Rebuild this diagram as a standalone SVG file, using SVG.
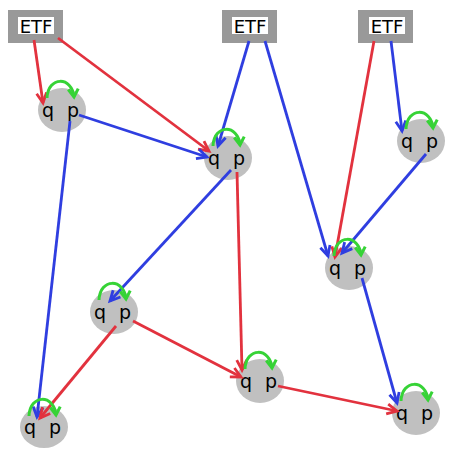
<svg xmlns="http://www.w3.org/2000/svg" width="471" height="471" viewBox="0 0 471 471">
<style>
.etf rect.box{fill:#999999}
.etf rect.bg{fill:#ffffff}
text{font-family:"DejaVu Sans","Liberation Sans",sans-serif;fill:#000}
.etf text{font-size:18px;text-anchor:middle}
.node ellipse{fill:#c0c0c0}
.node text{font-size:19px;text-anchor:middle}
.r{stroke:#e2323e;stroke-width:2.8;fill:none;marker-end:url(#ar)}
.b{stroke:#2f3ee0;stroke-width:2.8;fill:none;marker-end:url(#ab)}
.g{stroke:#36d336;stroke-width:3;fill:none;marker-end:url(#ag)}
</style>
<defs>
<marker id="ar" markerUnits="userSpaceOnUse" viewBox="-12 -7 14 14" refX="0" refY="0" markerWidth="14" markerHeight="14" orient="auto" overflow="visible"><path d="M-10,-5 L0,0 L-10,5" fill="none" stroke="#e2323e" stroke-width="2.8"/></marker>
<marker id="ab" markerUnits="userSpaceOnUse" viewBox="-12 -7 14 14" refX="0" refY="0" markerWidth="14" markerHeight="14" orient="auto" overflow="visible"><path d="M-10,-5 L0,0 L-10,5" fill="none" stroke="#2f3ee0" stroke-width="2.8"/></marker>
<marker id="ag" markerUnits="userSpaceOnUse" viewBox="-12 -7 14 14" refX="0" refY="0" markerWidth="14" markerHeight="14" orient="auto" overflow="visible"><path d="M-8,-5 L0,0 L-8,5" fill="none" stroke="#36d336" stroke-width="3"/></marker>
</defs>
<rect width="471" height="471" fill="#ffffff"/>
<g id="etf1" class="etf"><rect class="box" x="8" y="10" width="55" height="33"/><rect class="bg" x="18" y="17" width="36" height="17"/><text x="36" y="33">ETF</text></g>
<g id="etf2" class="etf"><rect class="box" x="222" y="10" width="55" height="33"/><rect class="bg" x="232" y="17" width="36" height="17"/><text x="250" y="33">ETF</text></g>
<g id="etf3" class="etf"><rect class="box" x="358" y="10" width="55" height="33"/><rect class="bg" x="369" y="17" width="36" height="17"/><text x="387" y="33">ETF</text></g>
<g id="n1" class="node"><ellipse cx="62" cy="110" rx="24" ry="22"/><text x="48" y="117">q</text><text x="73" y="117">p</text></g>
<g id="n2" class="node"><ellipse cx="228" cy="158" rx="24" ry="22"/><text x="214" y="165">q</text><text x="239" y="165">p</text></g>
<g id="n3" class="node"><ellipse cx="421" cy="141" rx="24" ry="22"/><text x="407" y="148">q</text><text x="432" y="148">p</text></g>
<g id="n4" class="node"><ellipse cx="349" cy="268" rx="24" ry="22"/><text x="335" y="275">q</text><text x="360" y="275">p</text></g>
<g id="n5" class="node"><ellipse cx="114" cy="312" rx="24" ry="22"/><text x="100" y="319">q</text><text x="125" y="319">p</text></g>
<g id="n6" class="node"><ellipse cx="260" cy="381" rx="24" ry="22"/><text x="246" y="388">q</text><text x="271" y="388">p</text></g>
<g id="n7" class="node"><ellipse cx="44" cy="427" rx="24" ry="21"/><text x="30" y="434">q</text><text x="55" y="434">p</text></g>
<g id="n8" class="node"><ellipse cx="416" cy="413" rx="24" ry="22"/><text x="402" y="420">q</text><text x="427" y="420">p</text></g>
<g id="connectors">
<line class="r" x1="34" y1="40" x2="43" y2="103"/>
<line class="r" x1="58" y1="38" x2="209" y2="151"/>
<line class="b" x1="79" y1="115" x2="207" y2="157"/>
<line class="b" x1="249" y1="41" x2="218" y2="146"/>
<line class="b" x1="265" y1="41" x2="328" y2="256"/>
<line class="r" x1="374" y1="41" x2="335" y2="257"/>
<line class="b" x1="391" y1="41" x2="402" y2="131"/>
<line class="b" x1="426" y1="154" x2="342" y2="253"/>
<line class="b" x1="231" y1="170" x2="110" y2="301"/>
<line class="r" x1="237" y1="172" x2="242" y2="370"/>
<line class="b" x1="70" y1="121" x2="37" y2="417"/>
<line class="r" x1="116" y1="326" x2="40" y2="418"/>
<line class="r" x1="133" y1="321" x2="241" y2="377"/>
<line class="r" x1="278" y1="386" x2="397" y2="411"/>
<line class="b" x1="362" y1="278" x2="397" y2="403"/>
<path class="g" d="M47,98 C48,76 72,76 74,97"/>
<path class="g" d="M213,146 C214,124 238,124 240,145"/>
<path class="g" d="M406,129 C407,107 431,107 433,128"/>
<path class="g" d="M334,256 C335,234 359,234 361,255"/>
<path class="g" d="M99,300 C100,278 124,278 126,299"/>
<path class="g" d="M245,369 C246,347 270,347 272,368"/>
<path class="g" d="M29,416 C30,394 54,394 56,415"/>
<path class="g" d="M401,401 C402,379 426,379 428,400"/>
</g>
</svg>
